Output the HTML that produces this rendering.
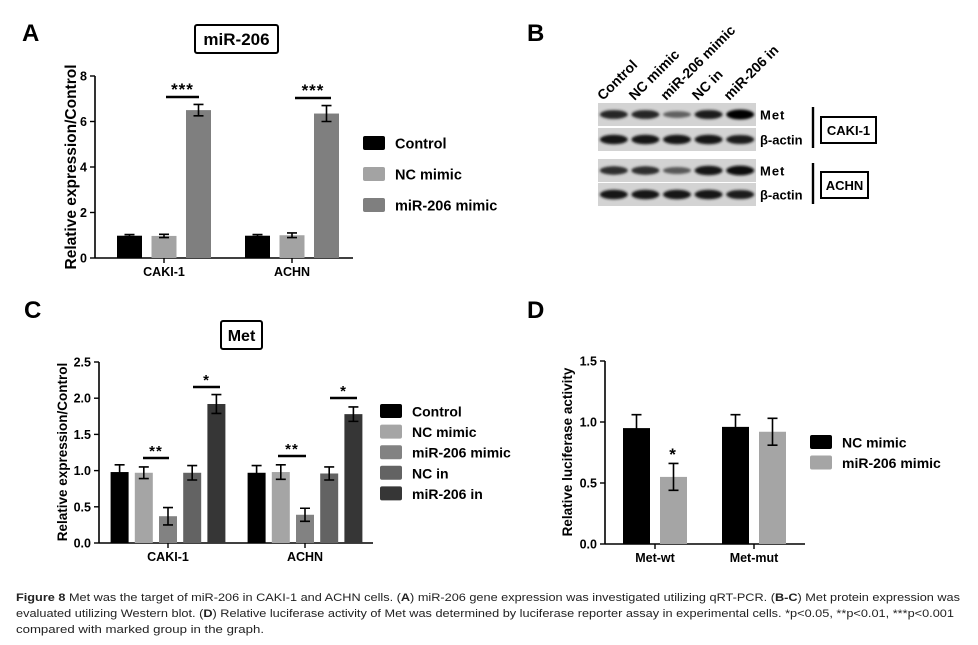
<!DOCTYPE html>
<html><head><meta charset="utf-8"><style>
html,body{margin:0;padding:0;background:#fff;}
svg{display:block;font-family:"Liberation Sans",Arial,sans-serif;}
</style></head><body>
<svg id="fig" width="978" height="645" viewBox="0 0 978 645" xmlns="http://www.w3.org/2000/svg">
<defs><filter id="blur" x="-20%" y="-100%" width="140%" height="300%"><feGaussianBlur stdDeviation="1.3"/></filter></defs>
<g id="panelA"></g>
<g id="panelB"></g>
<g id="panelC"></g>
<g id="panelD"></g>
<g font-size="11" fill="#222">
<text x="16" y="601" textLength="944" lengthAdjust="spacingAndGlyphs"><tspan font-weight="bold">Figure 8</tspan> Met was the target of miR-206 in CAKI-1 and ACHN cells. (<tspan font-weight="bold">A</tspan>) miR-206 gene expression was investigated utilizing qRT-PCR. (<tspan font-weight="bold">B-C</tspan>) Met protein expression was</text>
<text x="16" y="617" textLength="938" lengthAdjust="spacingAndGlyphs">evaluated utilizing Western blot. (<tspan font-weight="bold">D</tspan>) Relative luciferase activity of Met was determined by luciferase reporter assay in experimental cells. *p&lt;0.05, **p&lt;0.01, ***p&lt;0.001</text>
<text x="16" y="633" textLength="248" lengthAdjust="spacingAndGlyphs">compared with marked group in the graph.</text>
</g>
</svg>
<script>
// ---- Panel A data ----
const aGroups = ["CAKI-1", "ACHN"];
const aSeries = ["Control", "NC mimic", "miR-206 mimic"];
const aValues = [[0.98, 0.97, 6.5], [0.98, 1.0, 6.35]];
const aErrors = [[0.05, 0.07, 0.25], [0.05, 0.1, 0.35]];
const aTicks = [0, 2, 4, 6, 8];
// ---- Panel C data ----
const cGroups = ["CAKI-1", "ACHN"];
const cSeries = ["Control", "NC mimic", "miR-206 mimic", "NC in", "miR-206 in"];
const cValues = [[0.98, 0.97, 0.37, 0.97, 1.92], [0.97, 0.98, 0.39, 0.96, 1.78]];
const cErrors = [[0.1, 0.08, 0.12, 0.1, 0.13], [0.1, 0.1, 0.09, 0.09, 0.1]];
const cTicks = [0, 0.5, 1.0, 1.5, 2.0, 2.5];
// ---- Panel D data ----
const dGroups = ["Met-wt", "Met-mut"];
const dSeries = ["NC mimic", "miR-206 mimic"];
const dValues = [[0.95, 0.55], [0.96, 0.92]];
const dErrors = [[0.11, 0.11], [0.1, 0.11]];
const dTicks = [0, 0.5, 1.0, 1.5];
// ---- Panel B data (band intensities 0..1) ----
const bLanes = ["Control", "NC mimic", "miR-206 mimic", "NC in", "miR-206 in"];
const bRows = ["Met", "β-actin", "Met", "β-actin"];
const bIntensity = [[0.8, 0.8, 0.45, 0.85, 1.0], [0.9, 0.9, 0.9, 0.9, 0.85], [0.75, 0.75, 0.5, 0.9, 0.95], [0.9, 0.9, 0.9, 0.9, 0.85]];

const NS = "http://www.w3.org/2000/svg";
function mk(parent, tag, attrs, text) {
  const e = document.createElementNS(NS, tag);
  for (const k in attrs) e.setAttribute(k, attrs[k]);
  if (text !== undefined) e.textContent = text;
  parent.appendChild(e);
  return e;
}

function chart(g, o) {
  const y = v => o.y0 - (v - o.vmin) / (o.vmax - o.vmin) * (o.y0 - o.y1);
  const ya = mk(g, "line", {x1: o.ax, y1: o.y1, x2: o.ax, y2: o.y0, stroke: "#000", "stroke-width": 1.6});
  
  
  const xa = mk(g, "line", {x1: o.ax, y1: o.y0, x2: o.axEnd, y2: o.y0, stroke: "#000", "stroke-width": 1.6});
  
  
  o.ticks.forEach(t => {
    const ty = y(t);
    mk(g, "line", {x1: o.ax - 5, y1: ty, x2: o.ax, y2: ty, stroke: "#000", "stroke-width": 1.4});
    const tl = mk(g, "text", {x: o.ax - 8, y: ty + 4.5, "text-anchor": "end", "font-size": 12.5, "font-weight": "bold"}, o.tickFmt(t));
    
    
  });
  const yl = mk(g, "text", {transform: `translate(${o.ylx},${o.yly}) rotate(-90)`, "text-anchor": "middle", "font-size": o.ylSize, "font-weight": "bold"}, o.ylabel);
  
  
  o.groups.forEach((gname, gi) => {
    const gc = o.gx[gi];
    const n = o.series.length;
    mk(g, "line", {x1: gc, y1: o.y0, x2: gc, y2: o.y0 + 5, stroke: "#000", "stroke-width": 1.4});
    const xl = mk(g, "text", {x: gc, y: o.y0 + 18, "text-anchor": "middle", "font-size": 12.5, "font-weight": "bold"}, gname);
    
    
    o.series.forEach((s, si) => {
      const cx = gc + (si - (n - 1) / 2) * o.step;
      const v = o.values[gi][si], e = o.errors[gi][si];
      const b = mk(g, "rect", {x: cx - o.bw / 2, y: y(v), width: o.bw, height: o.y0 - y(v), fill: o.colors[si]});
      
      
      const eb = mk(g, "path", {d: `M${cx},${y(v - e)}V${y(v + e)}M${cx - 5},${y(v - e)}H${cx + 5}M${cx - 5},${y(v + e)}H${cx + 5}`, stroke: "#000", "stroke-width": 1.6, fill: "none"});
      
      
    });
  });
  o.series.forEach((s, si) => {
    const ly = o.legY + si * o.legStep;
    const sw = mk(g, "rect", {x: o.legX, y: ly - 7, width: 22, height: 14, rx: 2, fill: o.colors[si]});
    
    
    const lt = mk(g, "text", {x: o.legX + 32, y: ly + 5.5, "font-size": o.legSize, "font-weight": "bold"}, s);
    
    
  });
  return y;
}

function sig(g, y, x1, x2, lineV, label, size) {
  if (x2 > x1) mk(g, "line", {x1: x1, y1: lineV, x2: x2, y2: lineV, stroke: "#000", "stroke-width": 2.4});
  const t = mk(g, "text", {x: (x1 + x2) / 2, y: lineV - 2, "text-anchor": "middle", "font-size": size, "font-weight": "bold", "letter-spacing": 1}, label);
  
  
}

function panelLetter(g, x, y, l) {
  const t = mk(g, "text", {x: x, y: y, "font-size": 24, "font-weight": "bold"}, l);
  
  
}
function titleBox(g, x, y, w, h, txt, fs) {
  const r = mk(g, "rect", {x: x, y: y, width: w, height: h, rx: 2, fill: "#fff", stroke: "#000", "stroke-width": 2});
  
  
  const t = mk(g, "text", {x: x + w / 2, y: y + h / 2 + 6, "text-anchor": "middle", "font-size": fs, "font-weight": "bold"}, txt);
  
  
}

// Panel A
const gA = document.getElementById("panelA");
panelLetter(gA, 22, 41, "A");
titleBox(gA, 195, 25, 83, 28, "miR-206", 17);
const yA = chart(gA, {ax: 95, axEnd: 353, y0: 258, y1: 76, vmin: 0, vmax: 8, ticks: aTicks, tickFmt: t => String(t),
  ylabel: "Relative  expression/Control", ylx: 76, yly: 167, ylSize: 15.5,
  groups: aGroups, gx: [164, 292], series: aSeries, values: aValues, errors: aErrors, step: 34.5, bw: 25,
  colors: ["#000", "#a3a3a3", "#7f7f7f"], legX: 363, legY: 143, legStep: 31, legSize: 14.5});
sig(gA, yA, 166, 199, 97, "***", 17);
sig(gA, yA, 295, 331, 98, "***", 17);

// Panel C
const gC = document.getElementById("panelC");
panelLetter(gC, 24, 318, "C");
titleBox(gC, 221, 321, 41, 28, "Met", 16);
const yC = chart(gC, {ax: 99, axEnd: 373, y0: 543, y1: 362, vmin: 0, vmax: 2.5, ticks: cTicks, tickFmt: t => t.toFixed(1),
  ylabel: "Relative expression/Control", ylx: 67, yly: 452, ylSize: 13.5,
  groups: cGroups, gx: [168, 305], series: cSeries, values: cValues, errors: cErrors, step: 24.2, bw: 18,
  colors: ["#000", "#a5a5a5", "#828282", "#636363", "#363636"], legX: 380, legY: 411, legStep: 20.6, legSize: 14});
sig(gC, yC, 143, 169, 458, "**", 15);
sig(gC, yC, 193, 220, 387, "*", 15);
sig(gC, yC, 278, 306, 456, "**", 15);
sig(gC, yC, 330, 357, 398, "*", 15);

// Panel D
const gD = document.getElementById("panelD");
panelLetter(gD, 527, 318, "D");
const yD = chart(gD, {ax: 605, axEnd: 805, y0: 544, y1: 361, vmin: 0, vmax: 1.5, ticks: dTicks, tickFmt: t => t.toFixed(1),
  ylabel: "Relative luciferase activity", ylx: 572, yly: 452, ylSize: 13.5,
  groups: dGroups, gx: [655, 754], series: dSeries, values: dValues, errors: dErrors, step: 37, bw: 27,
  colors: ["#000", "#a5a5a5"], legX: 810, legY: 442, legStep: 20.5, legSize: 14});
sig(gD, yD, 673, 673, 462, "*", 17);

// Panel B
const gB = document.getElementById("panelB");
panelLetter(gB, 527, 41, "B");
const rowY = [103, 128, 159, 183];
const laneX0 = 598, laneW = 31.6, blotW = 158, rowH = 23;
bLanes.forEach((l, i) => {
  const lx = laneX0 + laneW * i + 5;
  const t = mk(gB, "text", {transform: `translate(${lx},${101}) rotate(-45)`, "font-size": 14, "font-weight": "bold"}, l);
  
  
});
bRows.forEach((r, ri) => {
  const ry = rowY[ri];
  const bg = mk(gB, "rect", {x: laneX0, y: ry, width: blotW, height: rowH, fill: "#d3d3d3"});
  
  
  bLanes.forEach((l, li) => {
    const it = bIntensity[ri][li];
    const c = Math.round(170 - it * 165);
    const band = mk(gB, "ellipse", {cx: laneX0 + laneW * (li + 0.5), cy: ry + rowH / 2, rx: 14, ry: 2 + it * 3, fill: `rgb(${c},${c},${c})`, filter: "url(#blur)"});
    
    
  });
  const lab = mk(gB, "text", {x: 760, y: ry + rowH / 2 + 5, "font-size": 13, "font-weight": "bold", "letter-spacing": r === "Met" ? 1 : 0}, r);
  
  
});
[[107, 148, 117, "CAKI-1", 55], [163, 204, 172, "ACHN", 47]].forEach(([a, b, by, txt, w]) => {
  mk(gB, "line", {x1: 813, y1: a, x2: 813, y2: b, stroke: "#000", "stroke-width": 2.4});
  const r = mk(gB, "rect", {x: 821, y: by, width: w, height: 26, fill: "#fff", stroke: "#000", "stroke-width": 2});
  
  
  const t = mk(gB, "text", {x: 821 + w / 2, y: by + 18, "text-anchor": "middle", "font-size": 13, "font-weight": "bold"}, txt);
  
  
});
</script>
</body></html>
